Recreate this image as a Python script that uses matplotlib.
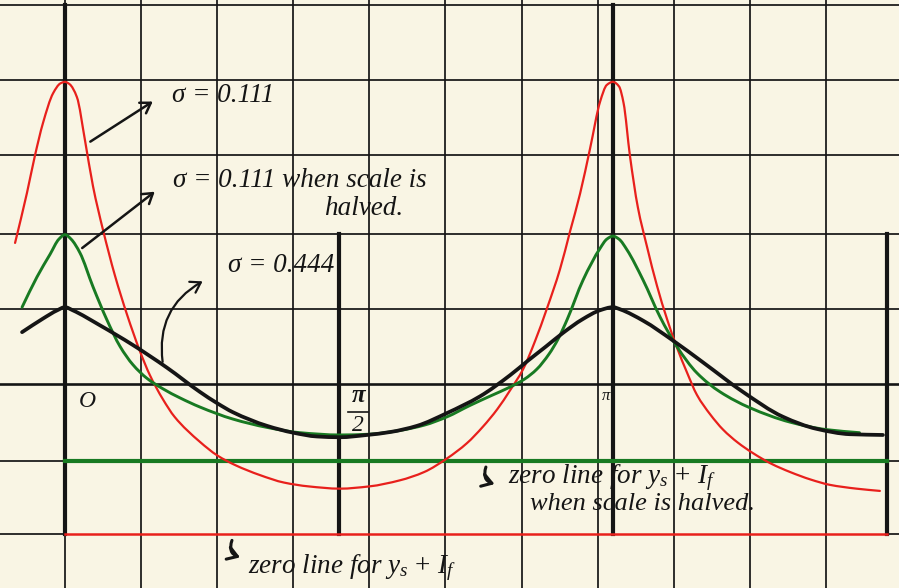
import numpy as np
import matplotlib.pyplot as plt
from matplotlib.patches import FancyArrowPatch, PathPatch
from matplotlib.path import Path

plt.rcParams['mathtext.fontset'] = 'custom'
plt.rcParams['mathtext.rm'] = 'Liberation Serif'
plt.rcParams['mathtext.it'] = 'Liberation Serif:italic'

# angle in degrees, ordinate in squares of the graph paper
red_deg = [-16.4, -12.5, -9.9, -7.2, -3.9, -1.5, 0, 1.5, 3.9, 6.6, 9.2, 12.5, 16.4,
           20.4, 24.6, 27.9, 32.2, 36, 44.3, 50, 56, 64, 72, 80, 90.3, 100, 110, 118,
           125.5, 132, 137.3, 142, 146.2, 150.5, 154.4, 158.3, 162.6, 165.9, 169.2,
           172.5, 175.8, 178, 180, 182, 183.5, 185.6, 188.2, 191.2, 194.5, 197.8, 201,
           204.3, 207.6, 212, 216.2, 221, 226, 232, 238.2, 245, 251.3, 260, 267.7]
red_val = [3.85, 4.51, 5.0, 5.44, 5.83, 5.96, 5.98, 5.95, 5.78, 5.2, 4.6, 4.02, 3.42,
           2.9, 2.42, 2.1, 1.78, 1.55, 1.22, 1.04, 0.91, 0.78, 0.68, 0.63, 0.60, 0.63,
           0.71, 0.82, 1.0, 1.2, 1.42, 1.65, 1.90, 2.18, 2.55, 2.98, 3.5, 4.0, 4.5,
           5.1, 5.72, 5.94, 5.98, 5.92, 5.7, 5.0, 4.32, 3.8, 3.28, 2.84, 2.47,
           2.14, 1.84, 1.58, 1.38, 1.21, 1.07, 0.93, 0.82, 0.72, 0.65, 0.60, 0.57]

green_deg = [-14.1, -9.2, -4.9, -2, 0, 2, 4.9, 9.2, 13.8, 18.1, 22.3, 26.9, 32.2, 37.8,
             44.3, 55.2, 66.4, 77.2, 90.3, 100, 110, 118, 125.5, 133, 140, 146, 151,
             155, 159, 162, 165, 170.2, 175.8, 178, 180, 182, 184.6, 189.9, 195.5, 201,
             207.6, 215.2, 225, 238.2, 250.3, 261]
green_val = [3.0, 3.4, 3.7, 3.9, 3.96, 3.9, 3.72, 3.27, 2.83, 2.48, 2.24, 2.06, 1.92, 1.80,
             1.68, 1.52, 1.41, 1.34, 1.31, 1.32, 1.37, 1.44, 1.55, 1.70, 1.83, 1.94, 2.05,
             2.18, 2.38, 2.58, 2.84, 3.36, 3.78, 3.9, 3.94, 3.9, 3.76, 3.36, 2.87, 2.48,
             2.13, 1.88, 1.67, 1.48, 1.38, 1.34]

black_deg = [-14.1, -7.2, -2.5, 0, 2.5, 11.5, 22.3, 33.5, 44.3, 50, 55.2, 66.4, 75, 82.8,
             90.3, 99.2, 107, 115.6, 125.5, 136.3, 146.2, 152, 158, 163.6, 170, 175.8,
             180, 182.5, 190, 199.7, 209.6, 222.7, 235.9, 247, 257.9, 268.7]
black_val = [2.67, 2.85, 2.96, 3.0, 2.96, 2.76, 2.5, 2.2, 1.88, 1.73, 1.61, 1.43, 1.34, 1.29,
             1.28, 1.31, 1.35, 1.43, 1.60, 1.82, 2.10, 2.29, 2.48, 2.66, 2.84, 2.96,
             3.0, 2.97, 2.82, 2.56, 2.27, 1.88, 1.55, 1.39, 1.32, 1.31]

grid_cols = [0, 25, 50, 75, 100, 125, 150, 175, 200, 225, 250]
grid_rows = [0, 0.97, 1.99, 2.98, 3.97, 5.01, 6.0, 7.0]
red_zero = 0
green_zero = 0.97

paper = '#f9f5e4'
ink = '#151515'
red = '#e8201c'
green = '#187a22'


def curve_path(xs, ys):
    # monotone cubic through the points (Fritsch-Carlson slopes), as Bezier segments
    x = np.asarray(xs, float)
    y = np.asarray(ys, float)
    h = np.diff(x)
    d = np.diff(y) / h
    m = np.zeros_like(y)
    m[0], m[-1] = d[0], d[-1]
    for i in range(1, len(x) - 1):
        if d[i - 1] * d[i] > 0:
            w1 = 2 * h[i] + h[i - 1]
            w2 = h[i] + 2 * h[i - 1]
            m[i] = (w1 + w2) / (w1 / d[i - 1] + w2 / d[i])
    verts, codes = [(x[0], y[0])], [Path.MOVETO]
    for i in range(len(x) - 1):
        verts += [(x[i] + h[i] / 3, y[i] + m[i] * h[i] / 3),
                  (x[i + 1] - h[i] / 3, y[i + 1] - m[i + 1] * h[i] / 3),
                  (x[i + 1], y[i + 1])]
        codes += [Path.CURVE4] * 3
    return Path(verts, codes)


fig = plt.figure(figsize=(8.99, 5.88), dpi=100)
fig.patch.set_facecolor(paper)
ax = fig.add_axes([0, 0, 1, 1])
ax.set_facecolor(paper)
ax.set_xlim(-21.35, 273.98)
ax.set_ylim(-0.714, 7.063)
ax.axis('off')

# graph paper
for c in grid_cols:
    ax.axvline(c, color=ink, lw=1.25, zorder=1)
for r in grid_rows:
    if r in (red_zero, green_zero):
        ax.plot([-30, 0], [r, r], color=ink, lw=1.25, zorder=1)
        ax.plot([270, 290], [r, r], color=ink, lw=1.25, zorder=1)
    else:
        ax.axhline(r, color=ink, lw=1.9 if r == 1.99 else 1.25, zorder=1)

# heavy ordinates at 0, pi/2, pi, 3pi/2
ax.plot([0, 0], [0, 7.0], color=ink, lw=3, zorder=2)
ax.plot([180, 180], [0, 7.0], color=ink, lw=3, zorder=2)
ax.plot([90, 90], [0, 3.97], color=ink, lw=3, zorder=2)
ax.plot([270, 270], [0, 3.97], color=ink, lw=3, zorder=2)

# zero lines
ax.plot([0, 270], [red_zero, red_zero], color=red, lw=1.8, zorder=3)
ax.plot([0, 270], [green_zero, green_zero], color=green, lw=3, zorder=3)

# curves
for xs, ys, col, w, z in [(red_deg, red_val, red, 1.6, 4),
                          (green_deg, green_val, green, 2.1, 5),
                          (black_deg, black_val, ink, 2.7, 6)]:
    ax.add_patch(PathPatch(curve_path(xs, ys), fill=False, edgecolor=col, lw=w,
                           capstyle='round', joinstyle='round', zorder=z))

# labels
txt = dict(family='Liberation Serif', style='italic', color=ink, zorder=7)
ax.text(35.2, 5.71, 'σ = 0.111', fontsize=19.5, ha='left', va='baseline', **txt)
ax.text(35.5, 4.59, 'σ = 0.111 when scale is', fontsize=19.5, ha='left', va='baseline', **txt)
ax.text(111, 4.22, 'halved.', fontsize=19.5, ha='right', va='baseline', **txt)
ax.text(53.5, 3.47, 'σ = 0.444', fontsize=19.5, ha='left', va='baseline', **txt)
ax.text(7.2, 1.68, 'O', fontsize=17, ha='center', va='baseline', **txt)
ax.text(96.3, 1.74, 'π', fontsize=18, ha='center', va='baseline', weight='bold', **txt)
ax.plot([93, 99.5], [1.61, 1.61], color=ink, lw=1.2, zorder=7)
ax.text(96.3, 1.36, '2', fontsize=17, ha='center', va='baseline', **txt)
ax.text(177.7, 1.77, 'π', fontsize=12, ha='center', va='baseline', **txt)
ax.text(145.5, 0.67, r'zero line for $y_s\,+\,I_f$', fontsize=19.5, ha='left',
        va='baseline', **txt)
ax.text(152.8, 0.32, 'when scale is halved.', fontsize=19, ha='left', va='baseline', **txt)
ax.text(60.1, -0.52, r'zero line for $y_s\,+\,I_f$', fontsize=19.5, ha='left',
        va='baseline', **txt)

# pointers
arrows = [((7.56, 5.17), (29.6, 5.74), 0.0, 1.8),
          ((4.93, 3.76), (30.2, 4.55), 0.0, 1.8),
          ((32.2, 2.24), (46.0, 3.36), -0.35, 1.6),
          ((138.6, 0.92), (142.0, 0.65), 0.6, 2.2),
          ((55.2, -0.05), (58.4, -0.32), 0.6, 2.2)]
for start, end, bend, w in arrows:
    ax.add_patch(FancyArrowPatch(start, end, arrowstyle='->,head_length=7,head_width=4.5',
                                 connectionstyle=f'arc3,rad={bend}', color=ink, lw=w,
                                 mutation_scale=1, zorder=7))

fig.savefig('out.png', dpi=100, facecolor=paper)
